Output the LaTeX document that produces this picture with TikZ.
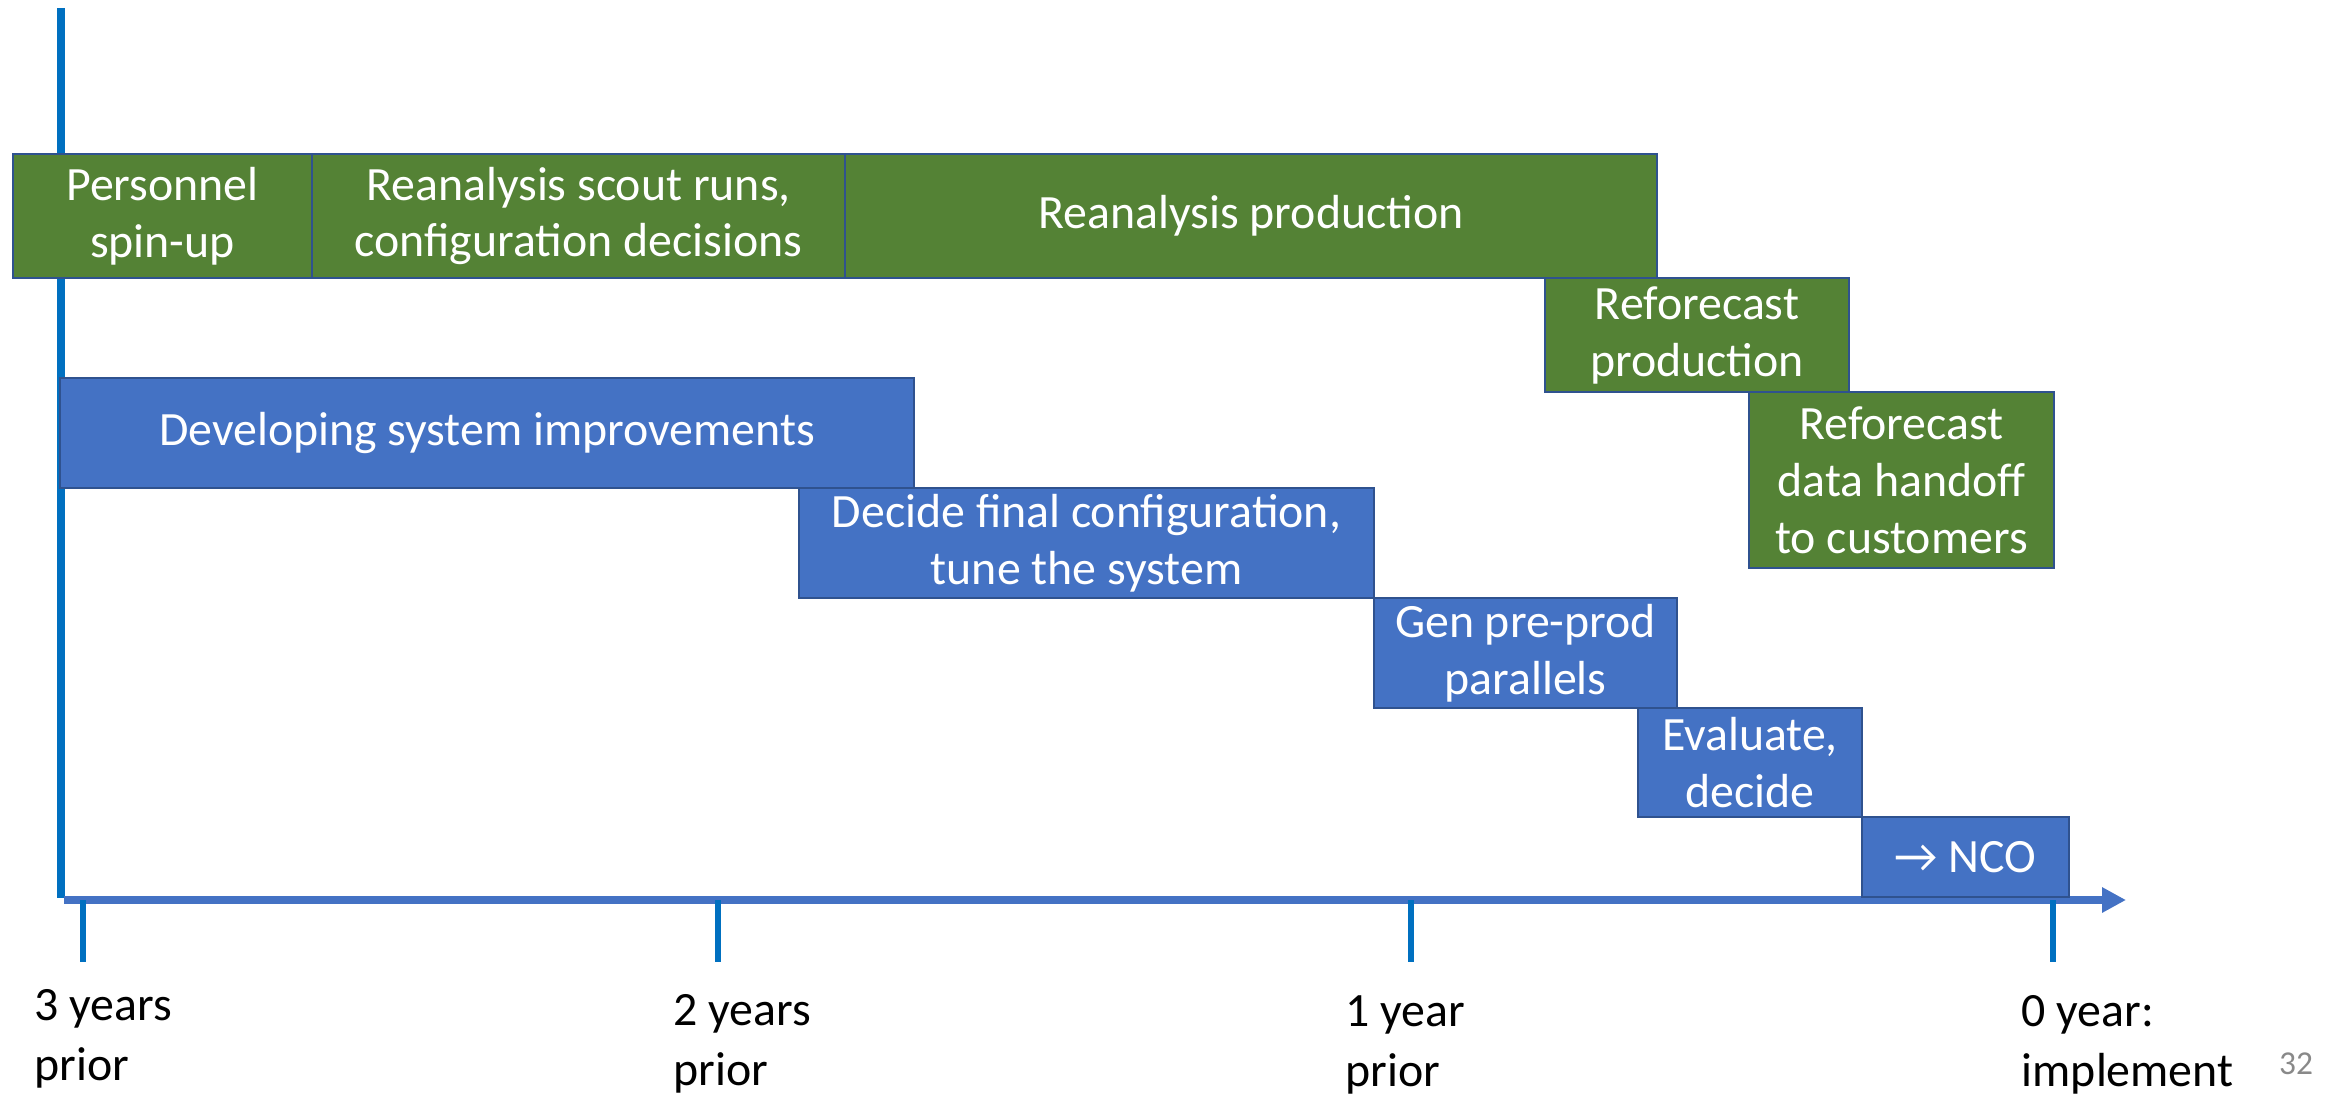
\documentclass[tikz,border=0pt]{standalone}
\usepackage{fontspec}
\setmainfont{Carlito}
\usetikzlibrary{arrows.meta}

\definecolor{barblue}{HTML}{4472C4}
\definecolor{bargreen}{HTML}{548235}
\definecolor{edgeblue}{HTML}{2F528F}
\definecolor{axisblue}{HTML}{0070C0}
\definecolor{pagegray}{HTML}{898989}

\begin{document}
\begin{tikzpicture}[
    x=0.01cm, y=-0.01cm,
    node font=\fontsize{13.6}{16.2}\selectfont,
    task/.style={draw=edgeblue,line width=.6pt,text=white,align=center,inner sep=0pt},
    prod/.style={task,fill=bargreen},
    dev/.style={task,fill=barblue},
    tick/.style={draw=axisblue,line width=1.7pt},
    when/.style={anchor=north west,align=left,inner sep=0pt,font=\fontsize{13.6}{17}\selectfont}
]
\useasboundingbox (0,0) rectangle (2339,1094);

% axes
\coordinate (top)    at (61,8);
\coordinate (corner) at (61,898);
\coordinate (start)  at (64,900);
\coordinate (tip)    at (2126,900);
\draw[axisblue,line width=2pt] (top) -- (corner);
\draw[barblue,line width=2.3pt,-{Triangle[length=0.24cm,width=0.24cm]}] (start) -- (tip);

% reanalysis / reforecast track
\node[prod,minimum width=2.99cm,minimum height=1.24cm] (spin) at (162.5,216) {Personnel\\spin-up};
\node[prod,minimum width=5.33cm,minimum height=1.24cm] (scout) at (578.5,216) {Reanalysis scout runs,\\configuration decisions};
\node[prod,minimum width=8.12cm,minimum height=1.24cm] (rean) at (1251,216) {Reanalysis production};
\node[prod,minimum width=3.04cm,minimum height=1.14cm] (refc) at (1697,335) {Reforecast\\production};
\node[prod,minimum width=3.05cm,minimum height=1.76cm] (handoff) at (1901.5,480) {Reforecast\\data handoff\\to customers};

% system development track
\node[dev,minimum width=8.54cm,minimum height=1.10cm] (devel) at (487,433) {Developing system improvements};
\node[dev,minimum width=5.75cm,minimum height=1.10cm] (tune) at (1086.5,543) {Decide final configuration,\\tune the system};
\node[dev,minimum width=3.03cm,minimum height=1.10cm] (para) at (1525.5,653) {Gen pre-prod\\parallels};
\node[dev,minimum width=2.24cm,minimum height=1.09cm] (eval) at (1750,762.5) {Evaluate,\\decide};
\node[dev,minimum width=2.07cm,minimum height=0.80cm] (nco) at (1965.5,857) {→ NCO};

% ticks and their labels
\draw[tick] (83,900) -- (83,962);
\draw[tick] (718,900) -- (718,962);
\draw[tick] (1411,900) -- (1411,962);
\draw[tick] (2053,900) -- (2053,962);
\node[when] (y3) at (34,989) {3 years\\prior};
\node[when] (y2) at (673,994) {2 years\\prior};
\node[when] (y1) at (1345,995) {1 year\\prior};
\node[when] (y0) at (2021,995) {0 year:\\implement};

\node[text=pagegray,font=\fontsize{9.5}{10}\selectfont] (page) at (2296,1064) {32};
\end{tikzpicture}
\end{document}
